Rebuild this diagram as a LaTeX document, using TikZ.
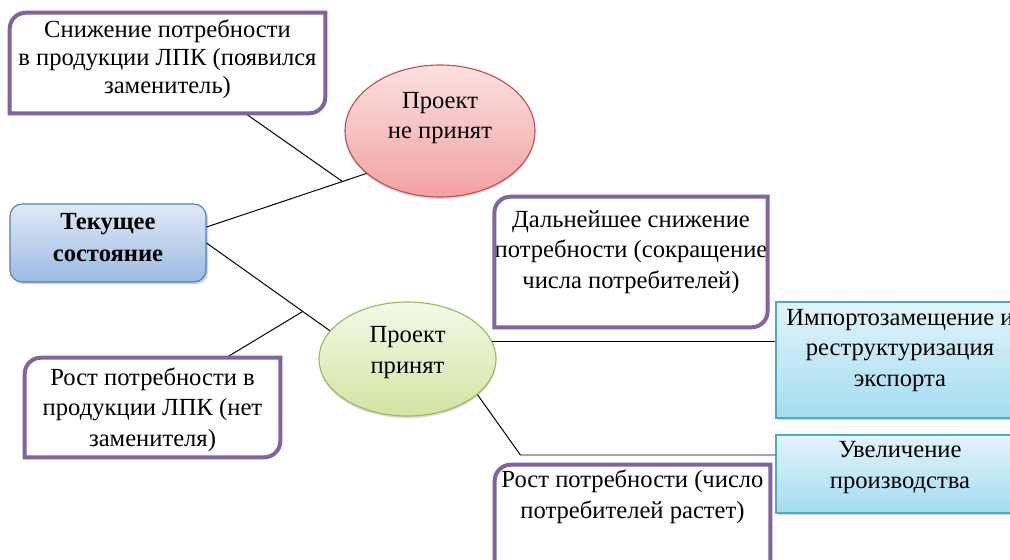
\documentclass[tikz,border=0pt]{standalone}
\usepackage{fontspec}
\setmainfont{Liberation Serif}
\usetikzlibrary{shapes.geometric, shadows}

\definecolor{frameviolet}{HTML}{8064A2}
\definecolor{failline}{HTML}{C0504D}
\definecolor{failtop}{HTML}{FBE1E1}
\definecolor{failbot}{HTML}{F2A1A1}
\definecolor{passline}{HTML}{9BBB59}
\definecolor{passtop}{HTML}{F4F9E8}
\definecolor{passbot}{HTML}{D3E4A2}
\definecolor{stateline}{HTML}{4F81BD}
\definecolor{statetop}{HTML}{E0E9F6}
\definecolor{statebot}{HTML}{9BBAE2}
\definecolor{outline}{HTML}{4BACC6}
\definecolor{outtop}{HTML}{E2F4FB}
\definecolor{outbot}{HTML}{A3DCF0}

\tikzset{
  txt/.style={font=\fontsize{17.5}{21.5}\selectfont, align=center, inner xsep=0pt, inner ysep=0pt, minimum height=0pt},
  hd/.style 2 args={text height=#1, text depth=#2},
  violet/.style={txt, rectangle},
  state/.style={txt, rectangle, draw=stateline, line width=0.8pt, rounded corners=3mm,
    top color=statetop, bottom color=statebot,
    drop shadow={shadow xshift=1.5pt, shadow yshift=-1.5pt, opacity=0.35}},
  outcome/.style={txt, rectangle, draw=outline, line width=0.8pt,
    top color=outtop, bottom color=outbot,
    drop shadow={shadow xshift=1.5pt, shadow yshift=-1.5pt, opacity=0.35}},
  fail/.style={txt, ellipse, draw=failline, line width=0.8pt, top color=failtop, bottom color=failbot,
    drop shadow={shadow xshift=0pt, shadow yshift=-1.5pt, opacity=0.3}},
  pass/.style={txt, ellipse, draw=passline, line width=0.8pt, top color=passtop, bottom color=passbot,
    drop shadow={shadow xshift=0pt, shadow yshift=-1.5pt, opacity=0.3}},
  conn/.style={line width=0.7pt},
  vframe/.style={draw=frameviolet, line width=1mm},
}

\begin{document}
\begin{tikzpicture}[x=0.25mm, y=-0.25mm]
\useasboundingbox (0,0) rectangle (1010,560);
\clip (0,0) rectangle (1010,560);

% left side
\node[violet, font=\fontsize{17.5}{20}\selectfont, minimum width=78.75mm, hd={20.25mm}{4.75mm}] (zam) at (167.5,63) {Снижение потребности\\в продукции ЛПК (появился\\заменитель)};
\node[state, font=\fontsize{17.5}{22.7}\selectfont\bfseries, minimum width=49mm, hd={14.25mm}{5.25mm}] (tek) at (108,243) {Текущее\\состояние};
\node[violet, minimum width=63.75mm, hd={22mm}{2.75mm}] (netzam) at (152.5,407.5) {Рост потребности в\\продукции ЛПК (нет\\заменителя)};

% the two outcomes of the project
\node[fail, minimum width=47.5mm, minimum height=33mm, hd={12.5mm}{8.5mm}] (neprin) at (440,131) {Проект\\не принят};
\node[pass, minimum width=44.25mm, minimum height=28.5mm, hd={12.5mm}{5.5mm}] (prin) at (407.5,359) {Проект\\принят};

% right side
\node[violet, minimum width=68mm, hd={22.75mm}{9.75mm}] (snizh) at (631,262) {Дальнейшее снижение\\потребности (сокращение\\числа потребителей)};
\node[outcome, minimum width=62mm, hd={21mm}{8mm}] (imp) at (900,360) {Импортозамещение и\\реструктуризация\\экспорта};
\node[outcome, minimum width=62mm, hd={13.25mm}{6.25mm}] (uve) at (900,474) {Увеличение\\производства};
\node[violet, minimum width=68.75mm, hd={13.25mm}{20mm}] (rost) at (632.5,531.5) {Рост потребности (число\\потребителей растет)};

% connectors
\draw[conn] ([yshift=4mm]tek.east) -- (neprin.210) coordinate[pos=0.85] (j1);
\draw[conn] ([xshift=19.4mm]zam.south) -- (j1);
\draw[conn] (tek.east) -- (prin.160) coordinate[pos=0.78] (j2);
\draw[conn] ([xshift=18.4mm]netzam.north) -- (j2);
\draw[conn] (prin.12) -- (prin.12 -| imp.west);
\draw[conn] (prin.-27) -- ([xshift=-63.75mm, yshift=4.75mm]uve.west) -- ([yshift=4.75mm]uve.west);

% violet frames, round corners top left and bottom right
\foreach \n in {zam,netzam,snizh,rost}
  \draw[vframe] (\n.north east) -- ([xshift=4mm]\n.north west) arc[start angle=90, end angle=180, radius=4mm]
    -- (\n.south west) -- ([xshift=-4mm]\n.south east) arc[start angle=270, end angle=360, radius=4mm] -- cycle;

\end{tikzpicture}
\end{document}
